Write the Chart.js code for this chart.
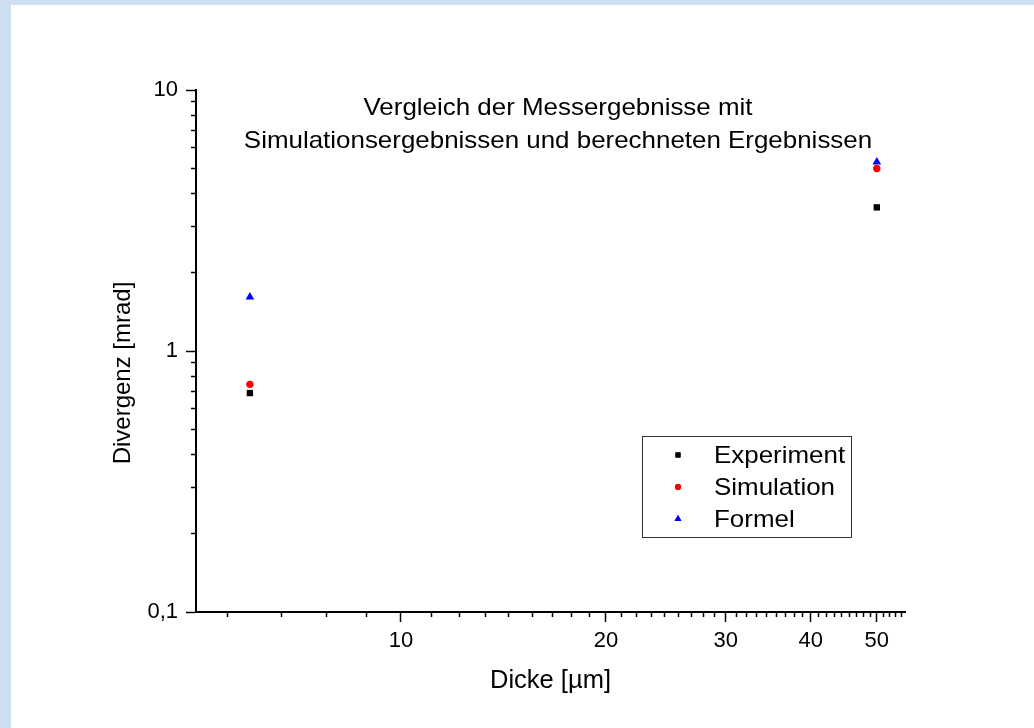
<!DOCTYPE html>
<html>
<head>
<meta charset="utf-8">
<script src="https://cdn.jsdelivr.net/npm/chart.js@4/dist/chart.umd.min.js"></script>
<style>
  html, body { margin: 0; padding: 0; background: #cddff0; overflow: hidden; }
  #wrap { position: absolute; left: 11px; top: 5px; width: 1023px; height: 723px; background: #fff; }
</style>
</head>
<body>
<div id="wrap"><canvas id="canvas" width="1023" height="723"></canvas></div>
<script>
// values
const dicke = [6, 50]
const experiment = [0.69, 3.55]
const simulation = [0.745, 5.0]
const formel = [1.61, 5.3]

const xMajorTicks = [10, 20, 30, 40, 50]
const xMinorTicks = [5.56, 6.67, 7.78, 8.89,
  11.1, 12.2, 13.3, 14.4, 15.6, 16.7, 17.8, 18.9,
  21.1, 22.2, 23.3, 24.4, 25.6, 26.7, 27.8, 28.9,
  31.1, 32.2, 33.3, 34.4, 35.6, 36.7, 37.8, 38.9,
  41.1, 42.2, 43.3, 44.4, 45.6, 46.7, 47.8, 48.9,
  51.1, 52.2, 53.3, 54.4]
const yMajorTicks = [0.1, 1, 10]
const yMinorTicks = [0.2, 0.3, 0.4, 0.5, 0.6, 0.7, 0.8, 0.9, 2, 3, 4, 5, 6, 7, 8, 9]

const titleLines = ['Vergleich der Messergebnisse mit', 'Simulationsergebnissen und berechneten Ergebnissen']

const FONT = '"Liberation Sans", Arial, sans-serif'
Chart.defaults.font.family = FONT
Chart.defaults.color = '#000'

const toPoints = (ys) => dicke.map((x, i) => ({ x: x, y: ys[i] }))

const data = {
  datasets: [
    { label: 'Experiment', data: toPoints(experiment), pointStyle: 'rect', pointRadius: 4.5,
      backgroundColor: '#000', borderColor: '#000', borderWidth: 0 },
    { label: 'Simulation', data: toPoints(simulation), pointStyle: 'circle', pointRadius: 3.7,
      backgroundColor: '#ff0000', borderColor: '#ff0000', borderWidth: 0 },
    { label: 'Formel', data: toPoints(formel), pointStyle: 'triangle', pointRadius: 5,
      backgroundColor: '#0000ff', borderColor: '#0000ff', borderWidth: 0 },
  ],
}

// the original text is a little wider than it is tall
const STRETCH = 1.08
function wideText(ctx, text, x, y) {
  ctx.save()
  ctx.translate(x, y)
  ctx.scale(STRETCH, 1)
  ctx.fillText(text, 0, 0)
  ctx.restore()
}

// title, y-axis title and the boxed legend, drawn inside the plot like the original
const overlay = {
  id: 'overlay',
  afterDraw(chart) {
    const ctx = chart.ctx
    ctx.save()
    ctx.fillStyle = '#000'
    ctx.textAlign = 'center'
    ctx.textBaseline = 'middle'
    ctx.font = '24px ' + FONT
    wideText(ctx, titleLines[0], 547, 103)
    wideText(ctx, titleLines[1], 547, 136)

    ctx.save()
    ctx.translate(112, 368)
    ctx.rotate(-Math.PI / 2)
    ctx.fillText('Divergenz [mrad]', 0, 0)
    ctx.restore()

    // legend
    ctx.strokeStyle = '#333'
    ctx.lineWidth = 1
    ctx.strokeRect(631.5, 431.5, 209, 101)
    ctx.textAlign = 'left'
    ctx.font = '24px ' + FONT
    chart.data.datasets.forEach((ds, i) => {
      const y = 450 + i * 32
      ctx.fillStyle = ds.backgroundColor
      Chart.helpers.drawPoint(ctx, { pointStyle: ds.pointStyle, radius: ds.pointRadius * 0.8, borderWidth: 0 }, 667, y)
      ctx.fill()
      ctx.fillStyle = '#000'
      wideText(ctx, ds.label, 703, y + 1)
    })
    ctx.restore()
  },
}

const config = {
  type: 'scatter',
  data: data,
  plugins: [overlay],
  options: {
    responsive: false,
    animation: false,
    layout: { padding: { left: 100, right: 129, top: 85, bottom: 28 } },
    plugins: { legend: { display: false }, tooltip: { enabled: false } },
    scales: {
      x: {
        type: 'logarithmic', min: 5, max: 55, position: 'bottom', weight: 1,
        afterBuildTicks: (s) => { s.ticks = xMajorTicks.map((v) => ({ value: v })) },
        afterFit: (s) => { s.height = 88 },
        ticks: { font: { size: 22 }, color: '#000', padding: 6, autoSkip: false, maxRotation: 0,
          callback: (v) => String(v) },
        grid: { drawOnChartArea: false, tickLength: 10, tickWidth: 1.5, color: '#000' },
        border: { color: '#000', width: 2 },
        title: { display: true, text: 'Dicke [µm]', font: { size: 25.5 }, color: '#000', padding: { top: 4, bottom: 4 } },
      },
      xm: {
        type: 'logarithmic', min: 5, max: 55, position: 'bottom', weight: 0,
        afterBuildTicks: (s) => { s.ticks = xMinorTicks.map((v) => ({ value: v })) },
        afterFit: (s) => { s.height = 0 },
        ticks: { display: false },
        grid: { drawOnChartArea: false, tickLength: 5, tickWidth: 1.5, color: '#000' },
        border: { display: false },
      },
      y: {
        type: 'logarithmic', min: 0.1, max: 10, position: 'left', weight: 1,
        afterBuildTicks: (s) => { s.ticks = yMajorTicks.map((v) => ({ value: v })) },
        afterFit: (s) => { s.width = 85 },
        ticks: { font: { size: 22 }, color: '#000', padding: 8, autoSkip: false,
          callback: (v) => String(v).replace('.', ',') },
        grid: { drawOnChartArea: false, tickLength: 10, tickWidth: 1.5, color: '#000' },
        border: { color: '#000', width: 2 },
      },
      ym: {
        type: 'logarithmic', min: 0.1, max: 10, position: 'left', weight: 0,
        afterBuildTicks: (s) => { s.ticks = yMinorTicks.map((v) => ({ value: v })) },
        afterFit: (s) => { s.width = 0 },
        ticks: { display: false },
        grid: { drawOnChartArea: false, tickLength: 5, tickWidth: 1.5, color: '#000' },
        border: { display: false },
      },
    },
  },
}

const canvas = document.getElementById('canvas')
const chart = new Chart(canvas, config)
</script>
</body>
</html>
